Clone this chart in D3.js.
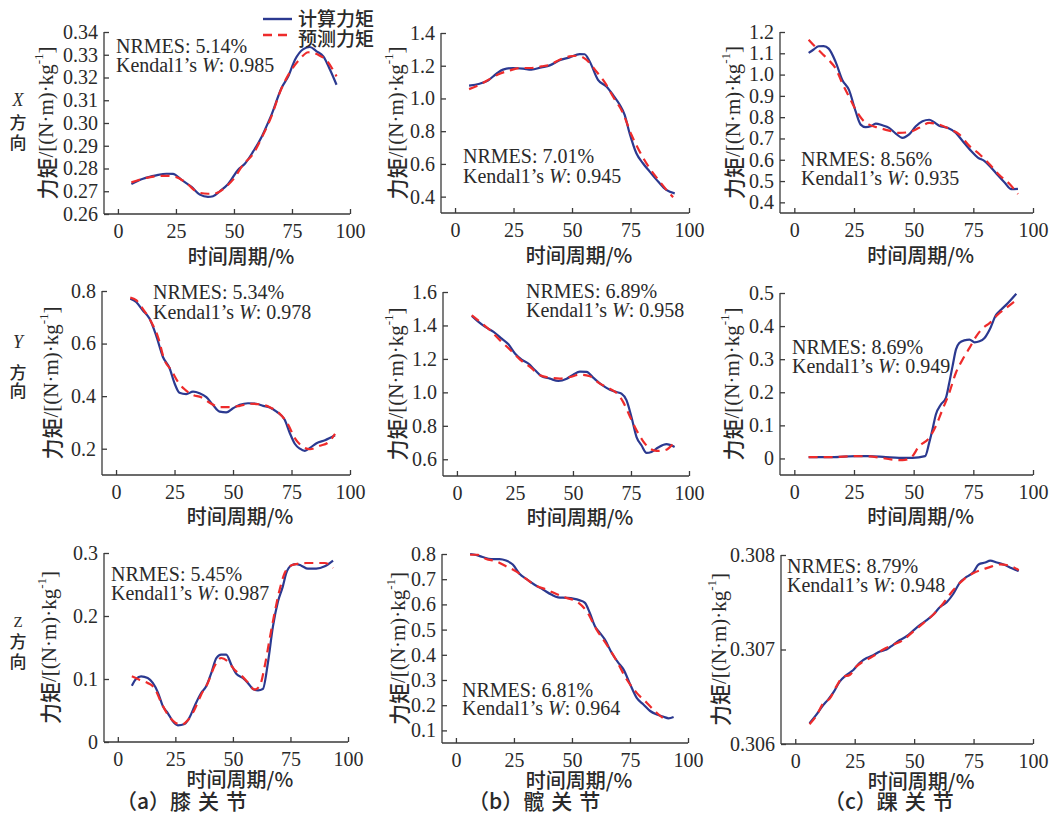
<!DOCTYPE html>
<html><head><meta charset="utf-8">
<script src="https://cdn.jsdelivr.net/npm/d3@7"></script>
<style>
html,body{margin:0;padding:0;background:#fff;}
svg{display:block;}
</style></head>
<body>
<svg id="c" width="1056" height="815"></svg>
<script>
// ---------- data ----------
const xTicks = [0, 25, 50, 75, 100];
const seriesNames = ["计算力矩", "预测力矩"];
const captionTags = ["（a）", "（b）", "（c）"];
const captionNames = ["膝关节", "髋关节", "踝关节"];
const rowLabels = ["X", "Y", "Z"];
const nrmes = ["5.14%", "7.01%", "8.56%", "5.34%", "6.89%", "8.69%", "5.45%", "6.81%", "8.79%"];
const kendallW = ["0.985", "0.945", "0.935", "0.978", "0.958", "0.949", "0.987", "0.964", "0.948"];

const kneeX_ticks = [0.26, 0.27, 0.28, 0.29, 0.30, 0.31, 0.32, 0.33, 0.34];
const hipX_ticks = [0.4, 0.6, 0.8, 1.0, 1.2, 1.4];
const ankleX_ticks = [0.4, 0.5, 0.6, 0.7, 0.8, 0.9, 1.0, 1.1, 1.2];
const kneeY_ticks = [0.2, 0.4, 0.6, 0.8];
const hipY_ticks = [0.6, 0.8, 1.0, 1.2, 1.4, 1.6];
const ankleY_ticks = [0, 0.1, 0.2, 0.3, 0.4, 0.5];
const kneeZ_ticks = [0, 0.1, 0.2, 0.3];
const hipZ_ticks = [0.1, 0.2, 0.3, 0.4, 0.5, 0.6, 0.7, 0.8];
const ankleZ_ticks = [0.306, 0.307, 0.308];

const kneeX_calc = [[5.8,0.2732],[10.8,0.2755],[16.5,0.277],[20.9,0.2777],[23.7,0.2776],[27.3,0.2751],[31.7,0.2719],[35.3,0.2685],[38.8,0.2675],[41,0.2678],[43.9,0.270],[47.5,0.2732],[51.8,0.2795],[54.7,0.2821],[58.3,0.2875],[61.9,0.2938],[64,0.2985],[66.2,0.3037],[70.5,0.3154],[73.4,0.3205],[76.3,0.3278],[79.9,0.3325],[82.7,0.3334],[85.6,0.3315],[88.5,0.3293],[91.4,0.3234],[94.2,0.3168]];
const kneeX_pred = [[5.8,0.2739],[10.8,0.2755],[16.5,0.2766],[20.9,0.2768],[25.2,0.2762],[29.5,0.2736],[34.5,0.2695],[38.8,0.2689],[42.4,0.2692],[46.8,0.2722],[49.6,0.2751],[54,0.2817],[58.3,0.2865],[62.6,0.2949],[66.2,0.303],[69.8,0.3135],[74.1,0.3223],[78.4,0.3281],[82,0.3311],[86.3,0.330],[89.9,0.3275],[94.2,0.3205]];

const hipX_calc = [[6,1.078],[10.5,1.090],[14.1,1.110],[17.7,1.151],[20.5,1.176],[24.8,1.186],[29.1,1.182],[32.6,1.176],[36.9,1.190],[40.5,1.202],[44.7,1.233],[49,1.251],[53.3,1.271],[55.4,1.270],[57.5,1.227],[61.1,1.114],[64.7,1.073],[67.5,1.022],[70.4,0.961],[72.5,0.900],[74.6,0.788],[77.5,0.665],[80.3,0.604],[83.2,0.553],[86.8,0.492],[90.3,0.441],[93.9,0.420]];
const hipX_pred = [[6,1.057],[10.5,1.084],[14.8,1.118],[19.1,1.151],[23.4,1.171],[27.6,1.186],[32.6,1.186],[36.9,1.196],[40.5,1.206],[44.7,1.237],[49,1.257],[52.6,1.261],[56.1,1.237],[60.4,1.165],[64,1.098],[67.5,1.012],[71.8,0.910],[75.4,0.778],[78.9,0.676],[83.2,0.573],[87.5,0.492],[91,0.431],[93.2,0.396]];

const ankleX_calc = [[6,1.102],[8.1,1.118],[10.2,1.133],[12.3,1.134],[14.4,1.122],[17.3,1.06],[20.1,0.975],[22.9,0.928],[25.7,0.827],[27.8,0.765],[29.9,0.753],[32,0.757],[34.1,0.770],[36.9,0.762],[39.7,0.750],[42.5,0.723],[45.3,0.703],[48.1,0.719],[50.9,0.757],[53.7,0.781],[56.5,0.788],[58.6,0.776],[60.7,0.760],[64.2,0.750],[67.7,0.726],[70.5,0.688],[74.1,0.641],[76.9,0.610],[79.7,0.594],[82.5,0.563],[85.3,0.527],[88.1,0.493],[90.9,0.462],[93.7,0.463]];
const ankleX_pred = [[6,1.164],[8.8,1.130],[11.6,1.099],[14.4,1.068],[17.3,1.029],[20.1,0.959],[22.9,0.897],[25.7,0.835],[28.5,0.789],[31.3,0.765],[35.5,0.750],[39.7,0.737],[43.9,0.726],[48.1,0.730],[52.3,0.750],[56.5,0.773],[60.7,0.765],[64.9,0.745],[69.1,0.719],[73.4,0.664],[77.6,0.626],[81.8,0.579],[86,0.527],[90.2,0.486],[93.7,0.439]];

const kneeY_calc = [[6.1,0.771],[8.6,0.758],[11.4,0.727],[14.3,0.695],[17.1,0.632],[20,0.550],[22.9,0.506],[25,0.449],[27.1,0.413],[30,0.408],[32.9,0.417],[35.7,0.411],[38.6,0.396],[41.4,0.367],[44.3,0.341],[47.1,0.338],[50,0.354],[52.9,0.367],[56.4,0.373],[60,0.371],[62.9,0.363],[65.7,0.357],[68.6,0.341],[72.1,0.310],[74.3,0.259],[76.4,0.219],[78.6,0.200],[80.7,0.192],[82.9,0.203],[85.7,0.221],[89.3,0.232],[93.6,0.251]];
const kneeY_pred = [[6.1,0.775],[8.6,0.765],[11.4,0.733],[15,0.683],[17.9,0.626],[20.7,0.537],[23.6,0.499],[26.4,0.455],[29.3,0.426],[32.9,0.404],[36.4,0.396],[40,0.375],[44.3,0.358],[48.6,0.358],[52.9,0.363],[57.1,0.371],[61.4,0.369],[65.7,0.358],[70,0.333],[73.6,0.291],[76.4,0.240],[79.3,0.211],[82.9,0.198],[87.1,0.211],[90.7,0.224],[93.6,0.256]];

const hipY_calc = [[6.4,1.457],[9.3,1.421],[12.2,1.391],[15.8,1.361],[19.3,1.321],[22.2,1.287],[25.1,1.231],[27.9,1.196],[30.8,1.172],[33.7,1.132],[36.5,1.096],[40.1,1.082],[43.7,1.068],[47.3,1.082],[50.1,1.106],[53,1.124],[55.9,1.122],[58.7,1.088],[62.3,1.046],[65.9,1.016],[68.8,1.002],[70.9,0.992],[73.1,0.952],[75.2,0.853],[77.4,0.733],[79.5,0.684],[81.7,0.638],[83.8,0.644],[86.7,0.670],[90.3,0.690],[93.8,0.674]];
const hipY_pred = [[6.4,1.461],[10,1.421],[14.3,1.371],[18.6,1.311],[22.9,1.255],[27.2,1.196],[31.5,1.152],[35.8,1.102],[40.1,1.088],[44.4,1.082],[48.7,1.092],[53,1.106],[57.3,1.096],[61.6,1.052],[65.9,1.022],[68.8,0.996],[71.6,0.943],[74.5,0.857],[77.4,0.773],[80.2,0.709],[83.1,0.664],[86,0.650],[89.5,0.654],[93.8,0.704]];

const ankleY_calc = [[6,0.004],[15.8,0.004],[25.7,0.007],[31.3,0.007],[38.3,0.004],[43.9,0.002],[49.5,0.002],[54.8,0.007],[56.5,0.047],[57.9,0.088],[59.3,0.133],[61.4,0.163],[63.5,0.183],[64.9,0.228],[66.3,0.279],[67.7,0.329],[69.1,0.349],[71.2,0.357],[73.4,0.359],[75.5,0.351],[77.6,0.354],[79.7,0.364],[81.8,0.389],[84.6,0.435],[86.7,0.450],[89.5,0.470],[93,0.498]];
const ankleY_pred = [[6,0.004],[15.8,0.004],[25.7,0.007],[31.3,0.006],[36.2,0.002],[40.4,-0.003],[45.3,-0.005],[48.8,0.002],[52.3,0.037],[56.5,0.062],[59.3,0.098],[62.1,0.148],[64.9,0.198],[67.7,0.259],[70.5,0.299],[73.4,0.334],[76.2,0.369],[79,0.394],[81.8,0.409],[85.3,0.435],[88.8,0.455],[92.3,0.475]];

const kneeZ_calc = [[6.1,0.0894],[8,0.1005],[10.1,0.1042],[13,0.1016],[15.2,0.0937],[17.4,0.0788],[19.6,0.0566],[21.7,0.046],[23.9,0.0328],[26.1,0.0265],[29,0.0286],[31.2,0.0392],[33.3,0.0566],[36.2,0.0778],[38.4,0.0884],[40.6,0.1095],[42.8,0.1333],[44.9,0.1386],[47.1,0.1386],[49.3,0.1228],[51.4,0.1085],[54.3,0.1016],[56.5,0.0937],[58.7,0.0841],[60.9,0.082],[63,0.0841],[65.2,0.1254],[67.4,0.1836],[69.6,0.2233],[71.7,0.2471],[73.2,0.2683],[75.4,0.2804],[77.5,0.2825],[79.7,0.2799],[82.6,0.2751],[86.2,0.2751],[89.9,0.2788],[93.5,0.2878]];
const kneeZ_pred = [[6.1,0.1042],[9.4,0.0989],[13,0.0937],[15.9,0.0857],[18.8,0.063],[21.7,0.0434],[24.8,0.0312],[27.5,0.0275],[30.4,0.0344],[33.3,0.0513],[36.2,0.0751],[39.1,0.0937],[42,0.1201],[44.9,0.1333],[47.8,0.128],[50.7,0.1148],[53.6,0.1058],[56.5,0.0947],[59.4,0.0831],[61.6,0.0884],[63.8,0.1201],[65.9,0.1624],[68.1,0.2048],[70.3,0.2418],[72.5,0.2683],[74.6,0.2788],[77.5,0.2825],[81.9,0.2841],[86.2,0.2841],[89.9,0.2841],[93.5,0.2762]];

const hipZ_calc = [[6.1,0.800],[8.7,0.796],[11.5,0.788],[15.2,0.780],[18.8,0.780],[21.6,0.774],[24.5,0.758],[27.4,0.722],[30.3,0.701],[33.9,0.678],[37.5,0.659],[41.1,0.639],[44,0.628],[47.6,0.626],[50.5,0.623],[53.4,0.616],[55.6,0.606],[57.7,0.566],[59.9,0.513],[62.1,0.486],[64.2,0.460],[67.1,0.408],[70,0.368],[72.2,0.342],[75.1,0.282],[77.9,0.229],[80.8,0.203],[83.7,0.177],[86.6,0.163],[89.5,0.154],[91.6,0.148],[93.8,0.153]];
const hipZ_pred = [[6.1,0.797],[9.4,0.797],[13.0,0.780],[17.3,0.771],[21.6,0.751],[25.9,0.731],[30.3,0.701],[34.6,0.674],[38.9,0.659],[43.3,0.641],[47.6,0.626],[51.9,0.612],[56.3,0.573],[60.6,0.500],[64.9,0.441],[69.3,0.375],[73.6,0.302],[77.9,0.249],[82.3,0.209],[86.6,0.169],[90.9,0.137]];

const ankleZ_calc = [[6,0.30622],[8.9,0.30631],[11.7,0.30641],[13.8,0.30647],[15.9,0.30654],[18.7,0.30666],[21.5,0.30673],[24.3,0.30678],[27.1,0.30686],[30,0.30691],[32.8,0.30694],[35.6,0.30698],[38.4,0.30700],[41.2,0.30705],[44,0.30710],[46.8,0.30714],[49.6,0.30720],[52.5,0.30726],[55.3,0.30731],[58.1,0.30737],[60.9,0.30745],[63.7,0.30750],[66.5,0.30759],[69.3,0.30771],[72.2,0.30777],[75,0.30782],[77.1,0.30790],[79.9,0.30792],[82,0.30794],[84.8,0.30792],[87.6,0.30790],[91.1,0.30786],[94,0.30783]];
const ankleZ_pred = [[6,0.30621],[8.9,0.30630],[11.7,0.30643],[14.5,0.30648],[17.3,0.30661],[20.1,0.30671],[22.9,0.30673],[25.7,0.30682],[28.5,0.30687],[32.8,0.30693],[37,0.30700],[41.2,0.30705],[45.4,0.30710],[49.6,0.30719],[53.9,0.30728],[58.1,0.30737],[62.3,0.30749],[66.5,0.30763],[70.8,0.30774],[75,0.30781],[79.2,0.30785],[82.7,0.30788],[86.2,0.30790],[89.7,0.30789],[94,0.30784]];

// ---------- layout ----------
const panels = [
  {calc:kneeX_calc, pred:kneeX_pred, ticks:kneeX_ticks, dom:[0.26,0.34], dec:2, L:104,R:350,T:32,B:214, ylx:46, ann:[116,53,72]},
  {calc:hipX_calc, pred:hipX_pred, ticks:hipX_ticks, dom:[0.3,1.4], dec:1, L:441,R:689,T:33,B:213, ylx:396, ann:[463,163,183]},
  {calc:ankleX_calc, pred:ankleX_pred, ticks:ankleX_ticks, dom:[0.35,1.2], dec:1, L:780,R:1033,T:32,B:213, ylx:733, ann:[801,166,185]},
  {calc:kneeY_calc, pred:kneeY_pred, ticks:kneeY_ticks, dom:[0.1,0.8], dec:1, L:102,R:350,T:291,B:475, ylx:51, ann:[153,299,319]},
  {calc:hipY_calc, pred:hipY_pred, ticks:hipY_ticks, dom:[0.5,1.6], dec:1, L:443,R:689,T:292,B:476, ylx:396, ann:[526,298,317]},
  {calc:ankleY_calc, pred:ankleY_pred, ticks:ankleY_ticks, dom:[-0.05,0.5], dec:1, L:780,R:1033,T:293,B:475, ylx:732, ann:[792,354,373]},
  {calc:kneeZ_calc, pred:kneeZ_pred, ticks:kneeZ_ticks, dom:[0,0.3], dec:1, L:104,R:348,T:553,B:742, ylx:49, ann:[111,581,600]},
  {calc:hipZ_calc, pred:hipZ_pred, ticks:hipZ_ticks, dom:[0.05,0.8], dec:1, L:442,R:688,T:554,B:743, ylx:398, ann:[462,697,715]},
  {calc:ankleZ_calc, pred:ankleZ_pred, ticks:ankleZ_ticks, dom:[0.306,0.308], dec:3, L:781,R:1033,T:555,B:744, ylx:719, ann:[787,573,592]}
];
const xTitleOffset = [41, 40, 36];

const BLUE = "#2b3990", RED = "#ee2b2b", AX = "#3a3a3a", TXT = "#2a2a2a";
const SERIF = "'Liberation Serif','Times New Roman',serif";
const CJK = "'Noto Sans CJK SC','Noto Sans',sans-serif";

const svg = d3.select("#c");

panels.forEach((p, i) => {
  const x = d3.scaleLinear().domain([-6, 100]).range([p.L, p.R]);
  const y = d3.scaleLinear().domain(p.dom).range([p.B, p.T]);
  const g = svg.append("g");

  const xa = g.append("g").attr("transform", `translate(0,${p.B})`)
    .call(d3.axisBottom(x).tickValues(xTicks).tickSizeInner(-5).tickSizeOuter(0).tickPadding(10));
  const ya = g.append("g").attr("transform", `translate(${p.L},0)`)
    .call(d3.axisLeft(y).tickValues(p.ticks).tickSizeInner(-5).tickSizeOuter(0).tickPadding(6)
      .tickFormat(d => Math.abs(d) < 1e-12 ? "0" : d.toFixed(p.dec)));
  [xa, ya].forEach(a => {
    a.attr("font-family", SERIF).attr("font-size", 20);
    a.selectAll("path.domain").attr("stroke", AX).attr("stroke-width", 1.3);
    a.selectAll(".tick line").attr("stroke", AX).attr("stroke-width", 1.3);
    a.selectAll("text").attr("font-family", SERIF).attr("font-size", 20).attr("fill", TXT);
  });
  ya.select("path.domain").attr("d", `M0,${p.T}V${p.B}`);
  xa.select("path.domain").attr("d", `M${p.L},0H${p.R}`);

  const line = d3.line().x(d => x(d[0])).y(d => y(d[1])).curve(d3.curveMonotoneX);
  g.append("path").datum(p.calc).attr("d", line).attr("fill", "none")
    .attr("stroke", BLUE).attr("stroke-width", 2.2);
  g.append("path").datum(p.pred).attr("d", line).attr("fill", "none")
    .attr("stroke", RED).attr("stroke-width", 2.2).attr("stroke-dasharray", "9,6");

  g.append("text").attr("x", p.ann[0]).attr("y", p.ann[1])
    .attr("font-family", SERIF).attr("font-size", 20).attr("fill", TXT)
    .text("NRMES: " + nrmes[i]);
  const t2 = g.append("text").attr("x", p.ann[0]).attr("y", p.ann[2])
    .attr("font-family", SERIF).attr("font-size", 20).attr("fill", TXT);
  t2.append("tspan").text("Kendal1’s ");
  t2.append("tspan").attr("font-style", "italic").text("W");
  t2.append("tspan").text(": " + kendallW[i]);

  g.append("text").attr("x", (x(0) + x(100)) / 2 + 7).attr("y", p.B + xTitleOffset[Math.floor(i / 3)])
    .attr("text-anchor", "middle").attr("dominant-baseline", "central")
    .attr("font-family", CJK).attr("font-weight", 500).attr("font-size", 20).attr("fill", TXT)
    .text("时间周期/%");

  const cy = (p.T + p.B) / 2;
  const yt = g.append("text").attr("transform", `translate(${p.ylx},${cy}) rotate(-90)`)
    .attr("text-anchor", "middle").attr("dominant-baseline", "central")
    .attr("font-size", 21).attr("fill", TXT);
  yt.append("tspan").attr("font-family", CJK).attr("font-weight", 500).text("力矩");
  yt.append("tspan").attr("font-family", SERIF).text("/[(N·m)·kg");
  yt.append("tspan").attr("font-family", SERIF).attr("font-size", 13).attr("dy", -8).text("-1");
  yt.append("tspan").attr("font-family", SERIF).attr("dy", 8).text("]");
});

// row labels
const rowY = [[100,121,141],[342,371,389],[622,640,660]];
rowLabels.forEach((r, i) => {
  svg.append("text").attr("x", 18).attr("y", rowY[i][0]).attr("text-anchor", "middle")
    .attr("dominant-baseline", "central")
    .attr("font-family", SERIF).attr("font-style", i < 2 ? "italic" : "normal")
    .attr("font-size", i < 2 ? 18 : 15).attr("fill", TXT).text(r);
  ["方", "向"].forEach((ch, k) => {
    svg.append("text").attr("x", 18).attr("y", rowY[i][k + 1]).attr("text-anchor", "middle")
      .attr("dominant-baseline", "central").attr("font-family", CJK).attr("font-weight", 500)
      .attr("font-size", 17).attr("fill", TXT).text(ch);
  });
});

// legend
const leg = svg.append("g");
[[19, BLUE, null, 17], [35, RED, "9,6", 37]].forEach((d, i) => {
  const l = leg.append("line").attr("x1", 263).attr("x2", 292).attr("y1", d[0]).attr("y2", d[0])
    .attr("stroke", d[1]).attr("stroke-width", 2.4);
  if (d[2]) l.attr("stroke-dasharray", d[2]);
  leg.append("text").attr("x", 298).attr("y", d[3]).attr("dominant-baseline", "central")
    .attr("font-family", CJK).attr("font-weight", 500).attr("font-size", 19).attr("fill", TXT)
    .text(seriesNames[i]);
});

// captions
const capX = [116, 468, 824];
captionTags.forEach((c, i) => {
  const t = svg.append("text").attr("x", capX[i]).attr("y", 809)
    .attr("font-family", CJK).attr("font-weight", 500).attr("font-size", 21).attr("fill", TXT);
  t.append("tspan").text(c);
  t.append("tspan").attr("letter-spacing", 7).text(captionNames[i]);
});
</script>
</body></html>
